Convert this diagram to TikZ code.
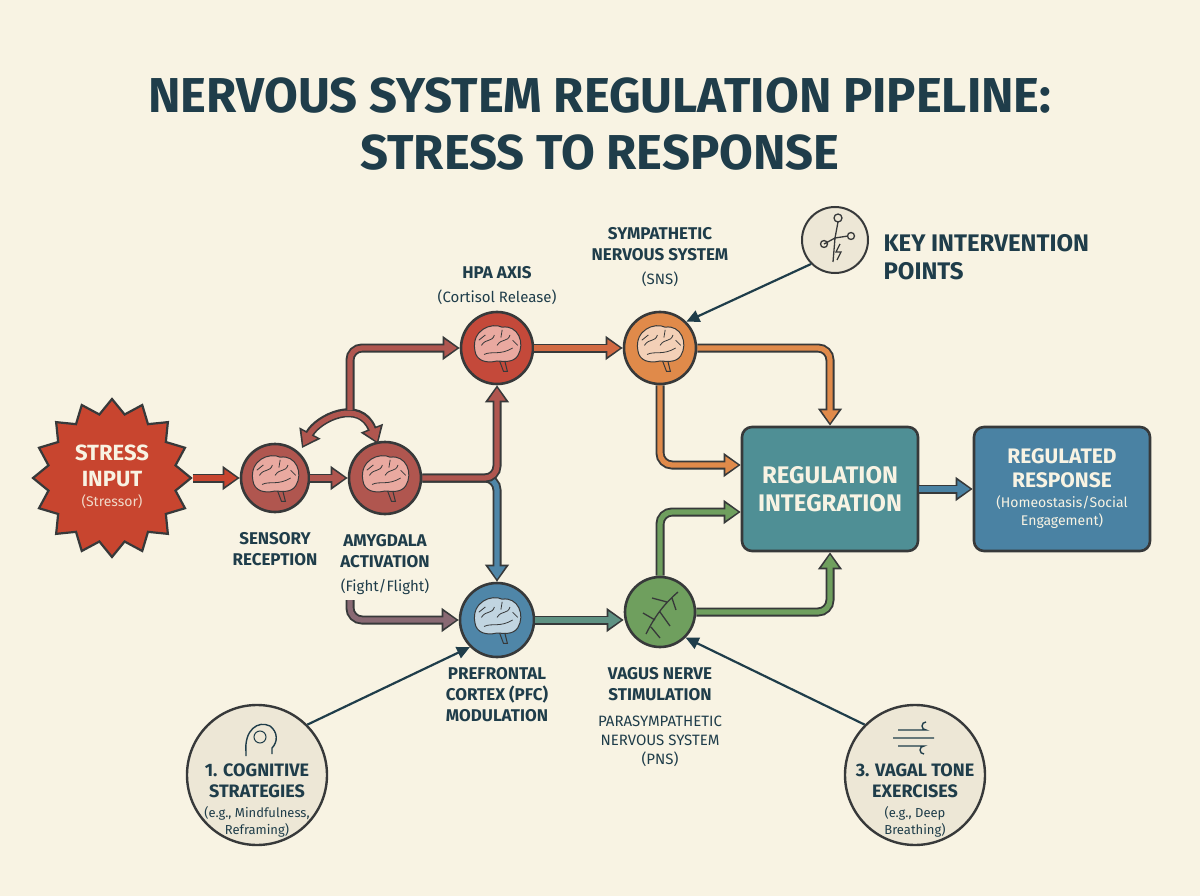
\documentclass[tikz,border=0pt]{standalone}
\usepackage{fontspec}
\setmainfont{Fira Sans}
\usetikzlibrary{arrows.meta,shapes.geometric}
\definecolor{bg}{HTML}{F8F3E3}
\definecolor{ink}{HTML}{1F3D4A}
\definecolor{ol}{HTML}{37393A}
\definecolor{cred}{HTML}{C8452F}
\definecolor{cbrn}{HTML}{B0564F}
\definecolor{chpa}{HTML}{C4493A}
\definecolor{corg}{HTML}{E08A4A}
\definecolor{cblu}{HTML}{4F86A8}
\definecolor{cgrn}{HTML}{6F9F5E}
\definecolor{cteal}{HTML}{4F8F95}
\definecolor{cresp}{HTML}{4A82A3}
\definecolor{cbei}{HTML}{EDE7D6}
\definecolor{pink}{HTML}{E9A9A0}
\begin{document}
\begin{tikzpicture}[x=1pt,y=-1pt,
  circ/.style={circle,draw=ol,line width=2.6pt,minimum size=#1},
  lab/.style={font=\bfseries\fontsize{17}{21}\selectfont,text=ink,align=center},
  sub/.style={font=\fontsize{15}{19}\selectfont,text=ink,align=center},
  big/.style={font=\bfseries\fontsize{#1}{\dimexpr #1pt*115/100\relax}\selectfont,align=center},
  small/.style={font=\fontsize{#1}{\dimexpr #1pt*125/100\relax}\selectfont,align=center},
  fatout/.style={line width=9pt,draw=ol,rounded corners=12pt,-{Triangle[length=17pt,width=23pt]}},
  fatin/.style={line width=5.2pt,draw=#1,rounded corners=12pt,shorten >=2.6pt,-{Triangle[length=12.8pt,width=16.5pt]}},
  thin/.style={line width=2.2pt,draw=ink,-{Triangle[length=13pt,width=12pt]}},
  box/.style={rounded corners=10pt,draw=ol,line width=2.6pt,minimum width=176pt,minimum height=124pt,align=center,text=bg}
]
\newcommand\fat[2]{\draw[fatout] #2; \draw[fatin=#1] #2;}
\newcommand\brain[2]{%
 \begin{scope}[shift={(#1)},scale=1.3]
  \fill[#2,draw=ol,line width=1pt] (-17,2) .. controls (-20,-14) and (-4,-20) .. (4,-16) .. controls (16,-18) and (22,-4) .. (16,6) .. controls (12,12) and (4,10) .. (0,10) .. controls (-8,12) and (-16,10) .. (-17,2) -- cycle;
  \draw[ol,line width=1pt] (2,10) -- (5,18) -- (8,18) -- (6,10);
  \draw[ol,line width=0.8pt] (-12,-2) .. controls (-8,-8) and (-4,-4) .. (-2,-10) (0,-2) .. controls (4,-8) and (8,-4) .. (10,-10) (-10,5) .. controls (-4,2) and (2,6) .. (12,0) (4,-14) -- (3,-8) (-14,-6) -- (-9,-10) (12,-6) -- (16,-2);
 \end{scope}}
\fill[bg] (0,0) rectangle (1200,896);
\useasboundingbox (0,0) rectangle (1200,896);
\node[text=ink,big=49] (title) at (600,124) {NERVOUS SYSTEM REGULATION PIPELINE:\\STRESS TO RESPONSE};
% nodes
\node[star,star points=16,star point ratio=1.22,minimum size=158pt,fill=cred,draw=ol,line width=2.2pt] (stress) at (112,478) {};
\node[text=bg,big=22] (stressT) at (112,466) {STRESS\\INPUT};
\node[text=bg!85!cred,small=14] (stressS) at (112,502) {(Stressor)};
\node[circ=68pt,fill=cbrn] (sens) at (275,478) {};
\node[circ=72pt,fill=cbrn] (amy) at (385,478) {};
\node[circ=72pt,fill=chpa] (hpa) at (497,348) {};
\node[circ=72pt,fill=corg] (sns) at (660,348) {};
\node[circ=74pt,fill=cblu] (pfc) at (497,620) {};
\node[circ=70pt,fill=cgrn] (vag) at (660,612) {};
\brain{275,478}{pink}\brain{385,478}{pink}\brain{497,348}{pink}\brain{660,348}{corg!40}\brain{497,620}{cblu!35}
% vagus nerve icon
\draw[ol,line width=1.3pt] (678,592) .. controls (664,604) and (655,616) .. (646,634) (667,602) -- (652,598) (660,612) -- (670,626) (655,620) -- (643,613) (651,627) -- (660,638) (672,598) -- (676,610);
\node[box,fill=cteal,big=24] (reg) at (830,489) {REGULATION\\INTEGRATION};
\node[box,fill=cresp] (resp) at (1062,489) {};
\node[text=bg,big=21] (respT) at (1062,468) {REGULATED\\RESPONSE};
\node[text=bg,small=14] (respS) at (1062,512) {(Homeostasis/Social\\Engagement)};
\node[circ=66pt,fill=cbei,line width=2pt] (key) at (835,240) {};
\draw[ol,line width=1.3pt] (838,218) circle (4) (838,222) -- (835,238) -- (824,244) (824,244) circle (3.5) (835,238) -- (848,236) (851,236) circle (3.5) (835,238) -- (833,262) (840,244) -- (836,252) -- (841,252) -- (837,260);
\node[text=ink,big=24,align=left,anchor=west] (keyT) at (880,257) {KEY INTERVENTION\\POINTS};
\node[circ=140pt,fill=cbei,line width=2.4pt] (cog) at (257,775) {};
\node[text=ink,big=18] (cogT) at (257,781) {1. COGNITIVE\\STRATEGIES};
\node[text=ink,small=13] (cogS) at (257,822) {(e.g., Mindfulness,\\Reframing)};
\draw[ink,line width=1.4pt] (246,752) .. controls (244,730) and (258,720) .. (270,726) .. controls (278,732) and (278,742) .. (272,748) -- (272,754) (246,752) -- (246,756);
\draw[ink,line width=1pt] (260,737) circle (6);
\node[circ=140pt,fill=cbei,line width=2.4pt] (vt) at (915,775) {};
\node[text=ink,big=18] (vtT) at (915,781) {3. VAGAL TONE\\EXERCISES};
\node[text=ink,small=13] (vtS) at (915,822) {(e.g., Deep\\Breathing)};
\draw[ink,line width=1.4pt] (898,730) -- (926,730) arc (-90:90:-4) (893,738) -- (934,738) (898,746) -- (924,746) arc (90:-90:-4);
% labels
\node[lab] (sensL) at (275,549) {SENSORY\\RECEPTION};
\node[lab] (amyL) at (385,551) {AMYGDALA\\ACTIVATION};
\node[sub] (amyS) at (385,587) {(Fight/Flight)};
\node[lab] (hpaL) at (497,273) {HPA AXIS};
\node[sub] (hpaS) at (497,297) {(Cortisol Release)};
\node[lab] (snsL) at (660,244) {SYMPATHETIC\\NERVOUS SYSTEM};
\node[sub] (snsS) at (660,279) {(SNS)};
\node[lab] (pfcL) at (497,695) {PREFRONTAL\\CORTEX (PFC)\\MODULATION};
\node[lab] (vagL) at (660,684) {VAGUS NERVE\\STIMULATION};
\node[sub] (vagS) at (660,741) {PARASYMPATHETIC\\NERVOUS SYSTEM\\(PNS)};
% connectors
\coordinate (fork) at (350,410);
\coordinate (amyb) at (350,600);
\coordinate (c1) at (302,448);
\coordinate (c2) at (378,444);
\fat{cred}{(stress.east) -- (sens.west)}
\fat{cbrn}{(sens.east) -- (amy.west)}
\draw[fatout,{Triangle[length=17pt,width=23pt]}-{Triangle[length=17pt,width=23pt]}] (c1) .. controls (318,418) and (360,398) .. (c2);
\draw[fatin=cbrn,shorten <=2.6pt,{Triangle[length=12.8pt,width=16.5pt]}-{Triangle[length=12.8pt,width=16.5pt]}] (c1) .. controls (318,418) and (360,398) .. (c2);
\fat{cbrn}{(fork) |- (hpa.west)}
\fat{cblu}{(amy.east) -| (pfc.north)}
\fat{cbrn}{(amy.east) -| (hpa.south)}
\fat{cbrn!60!cblu}{(amyb) |- (pfc.west)}
\fat{chpa!50!corg}{(hpa.east) -- (sns.west)}
\fat{cblu!50!cgrn}{(pfc.east) -- (pfc.east -| vag.west)}
\fat{corg}{(sns.east) -| (reg.north)}
\fat{corg}{(sns.south) |- (reg.west |- 0,465)}
\fat{cgrn}{(vag.north) |- (reg.west |- 0,512)}
\fat{cgrn}{(vag.east) -| (reg.south)}
\fat{cresp}{(reg.east) -- (resp.west)}
\draw[thin] (key.south west) -- (sns.north east);
\draw[thin] (cog.north east) -- (pfc.south west);
\draw[thin] (vt.north west) -- (vag.south east);
\end{tikzpicture}
\end{document}
